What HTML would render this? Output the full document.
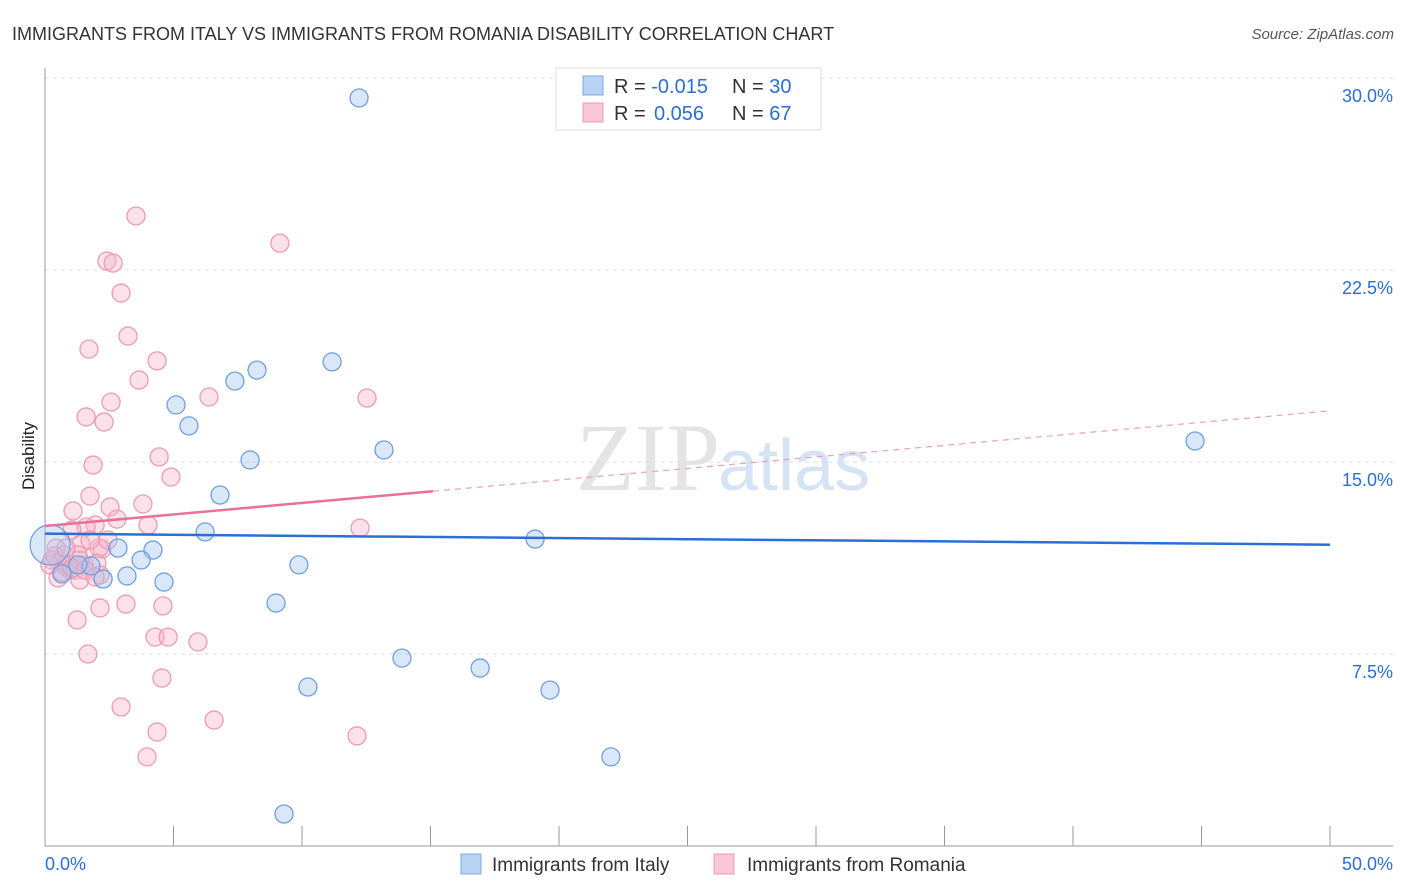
<!DOCTYPE html>
<html><head><meta charset="utf-8"><style>
body{margin:0;background:#fff;font-family:"Liberation Sans",sans-serif;}
svg{display:block}
</style></head><body>
<svg id="chart" width="1406" height="892" xmlns="http://www.w3.org/2000/svg">
<text x="12" y="40" font-size="18" fill="#333">IMMIGRANTS FROM ITALY VS IMMIGRANTS FROM ROMANIA DISABILITY CORRELATION CHART</text>
<text x="1394" y="39" font-size="15" fill="#555" text-anchor="end" font-style="italic">Source: ZipAtlas.com</text>
<text x="720" y="490" font-size="96" fill="#e4e4e4" text-anchor="end" font-family="Liberation Serif">ZIP</text>
<text x="718" y="490" font-size="72" fill="#d6e3f4">atlas</text>
<text x="34" y="456" font-size="17" fill="#222" text-anchor="middle" transform="rotate(-90 34 456)">Disability</text>
<g id="grid"></g><g id="axes"></g><g id="pts"></g><g id="lines"></g>
<g>
<rect x="556" y="68" width="265" height="62" fill="#fff" stroke="#ddd"/>
<rect x="583" y="76" width="20" height="19" fill="#b9d3f5" stroke="#7aa7e4"/>
<rect x="583" y="103" width="20" height="19" fill="#f9c6d5" stroke="#ec9bb4"/>
<text x="614" y="93" font-size="20" fill="#333">R = <tspan fill="#2a6fd6">-0.015</tspan><tspan x="732">N = </tspan><tspan fill="#2a6fd6">30</tspan></text>
<text x="614" y="120" font-size="20" fill="#333">R = <tspan x="654" fill="#2a6fd6">0.056</tspan><tspan x="732">N = </tspan><tspan fill="#2a6fd6">67</tspan></text>
</g>
<g>
<rect x="461" y="854" width="20" height="20" fill="#b9d3f5" stroke="#7aa7e4"/>
<text x="492" y="871" font-size="19" fill="#333">Immigrants from Italy</text>
<rect x="714" y="854" width="20" height="20" fill="#f9c6d5" stroke="#ec9bb4"/>
<text x="747" y="871" font-size="19" fill="#333">Immigrants from Romania</text>
</g>
</svg>
<script>
const italyX=[0.2,12.22,44.75,11.17,8.25,7.39,5.10,5.60,7.98,13.19,6.81,6.23,19.07,4.20,2.84,3.74,9.88,3.19,2.26,4.63,1.79,0.66,8.99,13.89,16.93,10.23,19.65,22.02,9.30,1.28];
const italyY=[11.76,29.22,15.82,18.91,18.59,18.16,17.23,16.41,15.08,15.47,13.71,12.27,11.99,11.56,11.64,11.17,10.98,10.55,10.43,10.31,10.94,10.63,9.49,7.34,6.95,6.21,6.09,3.48,1.25,10.98];
const romaniaX=[3.54,9.14,2.41,2.65,2.96,3.23,1.71,4.36,3.66,6.38,12.53,2.57,1.60,2.30,1.87,4.44,4.90,1.75,3.81,2.53,1.09,2.80,4.01,12.26,1.95,1.60,1.05,2.22,1.40,2.10,0.43,0.27,0.58,0.78,0.97,1.36,1.52,0.89,0.51,0.66,2.02,1.28,0.74,0.19,0.39,2.14,1.17,1.36,3.15,2.14,4.59,1.25,4.28,4.79,5.95,1.67,4.55,2.96,6.58,4.36,12.14,3.97,1.05,1.56,1.95,0.82,2.45,1.75];
const romaniaY=[24.61,23.55,22.85,22.77,21.60,19.92,19.41,18.95,18.20,17.54,17.50,17.34,16.76,16.56,14.88,15.20,14.41,13.67,13.36,13.24,13.09,12.77,12.54,12.42,12.54,12.46,12.34,11.60,11.80,11.64,11.64,11.17,11.09,10.94,10.78,11.17,10.98,10.98,10.47,10.70,11.05,11.37,11.37,10.98,11.33,10.59,10.78,10.39,9.45,9.30,9.38,8.83,8.16,8.16,7.97,7.50,6.56,5.43,4.92,4.45,4.30,3.48,10.86,10.78,10.51,11.64,11.95,11.95];
const italyTrend=[12.2,11.77];
const romaniaTrend=[12.5,17.0];
const romaniaSolidEnd=15.1;
const yTicks=[7.5,15,22.5,30];
const yTickLabels=["7.5%","15.0%","22.5%","30.0%"];
const xTicks=[0,5,10,15,20,25,30,35,40,45,50];
const NS="http://www.w3.org/2000/svg";
const X=v=>45+v/50*1285, Y=v=>846-v*25.6;
function mk(tag,attrs,parent){const e=document.createElementNS(NS,tag);for(const k in attrs)e.setAttribute(k,attrs[k]);document.getElementById(parent).appendChild(e);return e;}
yTicks.forEach((t,i)=>{
 const g=mk('line',{x1:45,x2:1393,y1:Y(t),y2:Y(t),stroke:'#ddd','stroke-dasharray':'4,4'},'grid');
 
 
 const l=mk('text',{x:1393,y:Y(t)+24,'font-size':18,fill:'#2a6fd6','text-anchor':'end'},'grid');
 l.textContent=yTickLabels[i];
 
 
});
const ax=mk('line',{x1:45,x2:45,y1:68,y2:846,stroke:'#999'},'axes');


const bx=mk('line',{x1:45,x2:1393,y1:846,y2:846,stroke:'#999'},'axes');


xTicks.forEach(t=>{
 const k=mk('line',{x1:X(t),x2:X(t),y1:826,y2:846,stroke:'#999'},'axes');
 
 
});
const x0=mk('text',{x:45,y:870,'font-size':18,fill:'#2a6fd6'},'axes');x0.textContent='0.0%';


const x1=mk('text',{x:1393,y:870,'font-size':18,fill:'#2a6fd6','text-anchor':'end'},'axes');x1.textContent='50.0%';


romaniaX.forEach((v,i)=>{
 const c=mk('circle',{cx:X(v),cy:Y(romaniaY[i]),r:9,fill:'rgba(248,180,200,0.4)',stroke:'#ec9bb4','stroke-width':1.3},'pts');
 
 
});
italyX.forEach((v,i)=>{
 const c=mk('circle',{cx:X(v),cy:Y(italyY[i]),r:i===0?20:9,fill:'rgba(160,196,240,0.4)',stroke:'#6fa0e0','stroke-width':1.3},'pts');
 
 
});
const it=mk('line',{x1:X(0),y1:Y(italyTrend[0]),x2:X(50),y2:Y(italyTrend[1]),stroke:'#2a6fd6','stroke-width':2.5},'lines');


const rAt=v=>romaniaTrend[0]+(romaniaTrend[1]-romaniaTrend[0])*v/50;
const rs=mk('line',{x1:X(0),y1:Y(rAt(0)),x2:X(romaniaSolidEnd),y2:Y(rAt(romaniaSolidEnd)),stroke:'#e8709a','stroke-width':2.5},'lines');


const rd=mk('line',{x1:X(romaniaSolidEnd),y1:Y(rAt(romaniaSolidEnd)),x2:X(50),y2:Y(rAt(50)),stroke:'#e8a0b8','stroke-width':1.2,'stroke-dasharray':'6,5'},'lines');


</script>
</body></html>
